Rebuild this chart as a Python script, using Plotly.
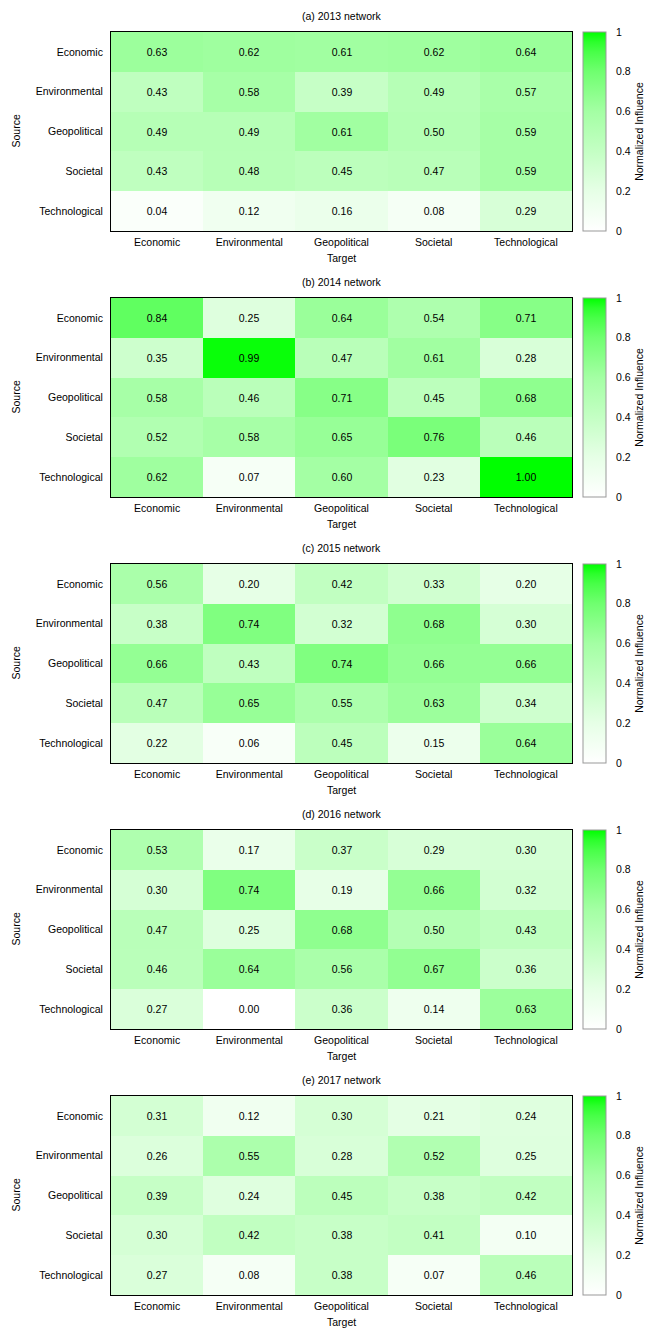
import plotly.graph_objects as go

categories = ["Economic", "Environmental", "Geopolitical", "Societal", "Technological"]
panel_titles = ["(a) 2013 network", "(b) 2014 network", "(c) 2015 network",
                "(d) 2016 network", "(e) 2017 network"]

z2013 = [[0.63, 0.62, 0.61, 0.62, 0.64],
         [0.43, 0.58, 0.39, 0.49, 0.57],
         [0.49, 0.49, 0.61, 0.50, 0.59],
         [0.43, 0.48, 0.45, 0.47, 0.59],
         [0.04, 0.12, 0.16, 0.08, 0.29]]
z2014 = [[0.84, 0.25, 0.64, 0.54, 0.71],
         [0.35, 0.99, 0.47, 0.61, 0.28],
         [0.58, 0.46, 0.71, 0.45, 0.68],
         [0.52, 0.58, 0.65, 0.76, 0.46],
         [0.62, 0.07, 0.60, 0.23, 1.00]]
z2015 = [[0.56, 0.20, 0.42, 0.33, 0.20],
         [0.38, 0.74, 0.32, 0.68, 0.30],
         [0.66, 0.43, 0.74, 0.66, 0.66],
         [0.47, 0.65, 0.55, 0.63, 0.34],
         [0.22, 0.06, 0.45, 0.15, 0.64]]
z2016 = [[0.53, 0.17, 0.37, 0.29, 0.30],
         [0.30, 0.74, 0.19, 0.66, 0.32],
         [0.47, 0.25, 0.68, 0.50, 0.43],
         [0.46, 0.64, 0.56, 0.67, 0.36],
         [0.27, 0.00, 0.36, 0.14, 0.63]]
z2017 = [[0.31, 0.12, 0.30, 0.21, 0.24],
         [0.26, 0.55, 0.28, 0.52, 0.25],
         [0.39, 0.24, 0.45, 0.38, 0.42],
         [0.30, 0.42, 0.38, 0.41, 0.10],
         [0.27, 0.08, 0.38, 0.07, 0.46]]
panels = [z2013, z2014, z2015, z2016, z2017]

cbar_ticks = [0, 0.2, 0.4, 0.6, 0.8, 1]
cbar_ticktext = ["0", "0.2", "0.4", "0.6", "0.8", "1"]

OFF = 8  # page body margin
W, H = 664 - OFF, 1329 - OFF
FONT = "Liberation Sans, Arial, sans-serif"
FS = 10.5
colorscale = [[0, "#ffffff"], [0.2, "#e6ffe6"], [0.4, "#c4ffc4"], [0.6, "#a4ffa4"],
              [0.8, "#70ff70"], [0.9, "#48ff48"], [0.95, "#2cff2c"], [1, "#00ff00"]]

x0, x1 = 111 - OFF, 572 - OFF
cb_x0, cb_w = 583 - OFF, 23
step = 266
top0, bot0 = 32 - OFF, 231 - OFF

fig = go.Figure()
layout = dict(width=W, height=H, margin=dict(l=0, r=0, t=0, b=0),
              paper_bgcolor="white", plot_bgcolor="white",
              font=dict(family=FONT, size=FS, color="black"), annotations=[])

for k, (z, title) in enumerate(zip(panels, panel_titles)):
    top = top0 + step * k
    bot = bot0 + step * k
    ydom = [1 - bot / H, 1 - top / H]
    xa = "x" if k == 0 else f"x{k+1}"
    ya = "y" if k == 0 else f"y{k+1}"
    fig.add_trace(go.Heatmap(
        z=z, x=categories, y=categories, xaxis=xa, yaxis=ya,
        zmin=0, zmax=1, colorscale=colorscale,
        texttemplate="%{z:.2f}", textfont=dict(size=FS, color="black", family=FONT),
        xgap=0, ygap=0,
        colorbar=dict(x=cb_x0 / W, xanchor="left", xpad=0, ypad=0,
                      y=(ydom[0] + ydom[1]) / 2, yanchor="middle",
                      len=(bot - top) / H, lenmode="fraction",
                      thickness=cb_w, thicknessmode="pixels",
                      outlinecolor="#999999", outlinewidth=1,
                      tickvals=cbar_ticks, ticktext=cbar_ticktext,
                      ticks="outside", ticklen=8, tickcolor="rgba(0,0,0,0)",
                      tickfont=dict(size=FS, family=FONT),
                      title=dict(text="Normalized Influence", side="right",
                                 font=dict(size=FS, family=FONT))),
    ))
    axkey_x = "xaxis" if k == 0 else f"xaxis{k+1}"
    axkey_y = "yaxis" if k == 0 else f"yaxis{k+1}"
    layout[axkey_x] = dict(domain=[x0 / W, x1 / W], anchor=ya, showline=True,
                           linecolor="black", linewidth=1, mirror=True, ticks="",
                           ticklabelstandoff=1,
                           tickfont=dict(size=FS), showgrid=False, zeroline=False,
                           fixedrange=True)
    layout[axkey_y] = dict(domain=ydom, anchor=xa, showline=True,
                           linecolor="black", linewidth=1, mirror=True, ticks="",
                           ticklabelstandoff=5,
                           autorange="reversed", tickfont=dict(size=FS),
                           showgrid=False, zeroline=False, fixedrange=True)
    layout["annotations"] += [
        dict(text=title, x=(x0 + x1) / 2 / W, y=1 - (top - 16) / H, xref="paper",
             yref="paper", showarrow=False, font=dict(size=FS), xanchor="center",
             yanchor="middle"),
        dict(text="Target", x=(x0 + x1) / 2 / W, y=1 - (bot + 27) / H, xref="paper",
             yref="paper", showarrow=False, font=dict(size=FS), xanchor="center",
             yanchor="middle"),
        dict(text="Source", x=0, y=1 - (top + bot) / 2 / H, xref="paper",
             yref="paper", showarrow=False, font=dict(size=FS), textangle=-90,
             xanchor="left", yanchor="middle", borderpad=0),
    ]

fig.update_layout(**layout)
fig.write_html("out.html")
